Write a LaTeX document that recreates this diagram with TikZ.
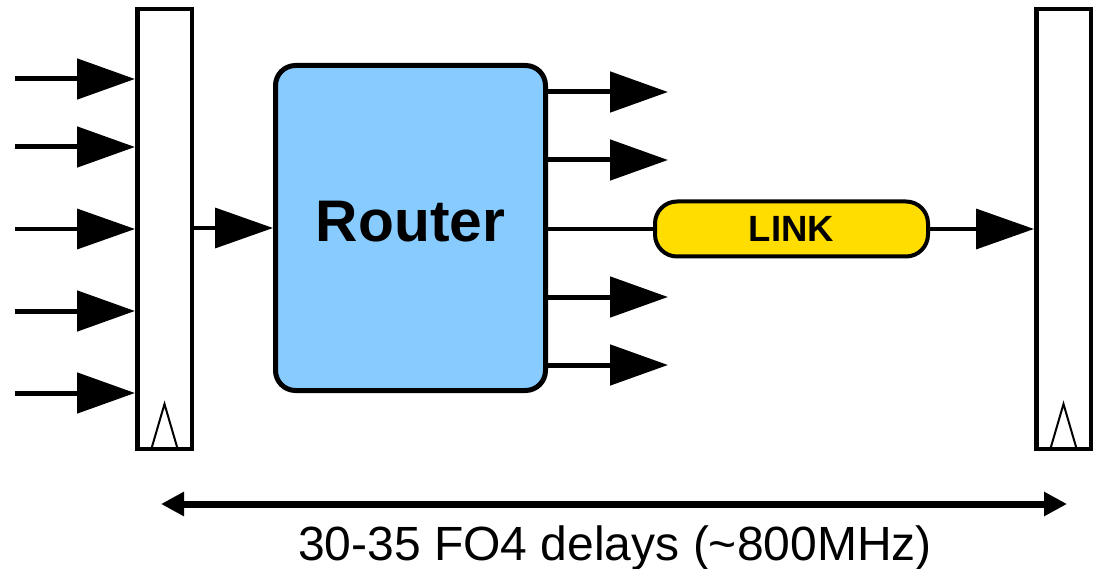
\documentclass[tikz,border=0pt]{standalone}
\usepackage{fontspec}
\setmainfont{Liberation Sans}
\usetikzlibrary{arrows.meta,calc}
\definecolor{routerblue}{HTML}{88CCFF}
\definecolor{linkyellow}{HTML}{FFDD00}
\begin{document}
\begin{tikzpicture}[x=1pt,y=-1pt,
  regbox/.style={draw, line width=4.5pt, fill=white, inner sep=0pt,
    minimum width=54.5pt, minimum height=439.5pt},
  clk/.style={line width=2pt, line join=miter},
  sig/.style={line width=5pt, -{Triangle[length=58pt,width=40pt]}},
  thinsig/.style={line width=3.5pt, -{Triangle[length=58pt,width=40pt]}},
  wire/.style={line width=3.5pt},
  routerbox/.style={draw, line width=5pt, fill=routerblue, rounded corners=20pt,
    inner sep=0pt, minimum width=270pt, minimum height=325pt},
  linkbox/.style={draw, line width=4pt, fill=linkyellow, rounded corners=22pt,
    inner sep=0pt, minimum width=273pt, minimum height=55pt,
    font=\fontsize{36.5}{40}\selectfont\bfseries},
  span/.style={line width=7pt, {Triangle[length=23pt,width=23pt]}-{Triangle[length=23pt,width=23pt]}}
]
\useasboundingbox (0,0) rectangle (1094,569);

% pipeline registers
\node[regbox] (regA) at (164.5,229) {};
\node[regbox] (regB) at (1063.5,229) {};
\draw[clk] ([xshift=-13pt,yshift=2.5pt]regA.south) -- ([yshift=47pt]regA.south) -- ([xshift=13pt,yshift=2.5pt]regA.south);
\draw[clk] ([xshift=-13pt,yshift=2.5pt]regB.south) -- ([yshift=47pt]regB.south) -- ([xshift=13pt,yshift=2.5pt]regB.south);

% router and link
\node[routerbox] (router) at (410.5,228) {};
\node[font=\fontsize{58.7}{62}\selectfont\bfseries] (routerlabel) at ([yshift=6pt]router.center) {Router};
\node[linkbox] (link) at (791.5,229) {LINK};

% input ports
\foreach \i/\y in {1/79,2/147,4/311,5/393}
  \coordinate (in\i) at (15,\y);
\coordinate (in3) at (15,229);
\foreach \i in {1,2,4,5}
  \draw[sig] (in\i) -- (in\i -| regA.west);
\draw[thinsig] (in3) -- (in3 -| regA.west);

% register to router
\draw[thinsig] (regA.east |- router) -- (router.west);

% output ports
\foreach \i/\y in {1/92,2/160,3/297,4/365}
  \coordinate (out\i) at (668,\y);
\foreach \i in {1,2,3,4}
  \draw[sig] (out\i -| router.east) -- (out\i);

% router through link to next register
\draw[wire] (router.east |- link) -- (link.west);
\draw[thinsig] (link.east) -- (link -| regB.west);

% cycle span
\coordinate (spanL) at (161,504);
\coordinate (spanR) at (1067,504);
\draw[span] (spanL) -- (spanR);
\node[font=\fontsize{48}{52}\selectfont, anchor=base] (spantext) at (615,560) {30-35 FO4 delays (\textasciitilde800MHz)};
\end{tikzpicture}
\end{document}
